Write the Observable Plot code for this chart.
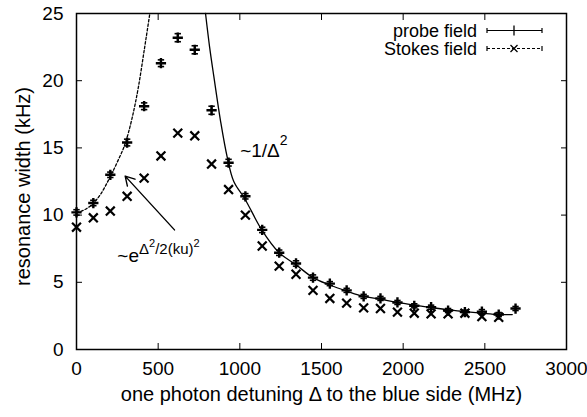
<!DOCTYPE html>
<html><head><meta charset="utf-8">
<script src="https://cdn.jsdelivr.net/npm/d3@7"></script>
<script src="https://cdn.jsdelivr.net/npm/@observablehq/plot@0.6"></script>
<style>html,body{margin:0;padding:0;background:#fff}svg{display:block}</style>
</head><body><div id="chart"></div>
<script>
// ---- data ----
const detuning = [0,103,207,310,414,517,620,724,827,931,1034,1137,1241,1344,1448,1551,1654,1758,1861,1965,2068,2171,2275,2378,2482,2585,2688];
const probeWidth = [10.2,10.9,13.0,15.4,18.1,21.3,23.2,22.3,17.8,13.9,11.4,8.9,7.2,6.4,5.35,4.9,4.4,3.95,3.8,3.5,3.25,3.15,2.9,2.78,2.82,2.6,3.05];
const probeErr = [0.2,0.2,0.2,0.25,0.25,0.25,0.3,0.3,0.3,0.25,0.2,0.2,0.2,0.2,0.2,0.15,0.15,0.15,0.15,0.15,0.15,0.15,0.15,0.15,0.15,0.15,0.15];
const stokesDetuning = [0,103,207,310,414,517,620,724,827,931,1034,1137,1241,1344,1448,1551,1654,1758,1861,1965,2068,2171,2275,2378,2482,2585];
const stokesWidth = [9.1,9.8,10.3,11.4,12.75,14.4,16.1,15.9,13.8,11.9,10.0,7.7,6.2,5.6,4.4,3.8,3.45,3.1,3.05,2.78,2.7,2.65,2.65,2.7,2.45,2.4];
const gaussCurveX = [0,50,100,150,200,250,300,340,380,415,449];
const gaussCurveY = [10.2,10.4,10.85,11.6,12.7,13.95,15.4,17.2,19.6,22.3,25.0];
const invCurveX = [790,815,841,882,923,963,1031,1137,1241,1344,1448,1551,1654,1758,1861,1965,2068,2171,2275,2378,2482,2585,2668];
const invCurveY = [25.0,22.5,20.3,17.0,14.3,12.5,11.2,8.85,7.2,6.3,5.35,4.8,4.35,3.95,3.75,3.5,3.3,3.12,2.95,2.82,2.7,2.6,2.6];
const arrowFrom = [600, 8.9];
const arrowTo = [298, 12.9];
const xTicks = [0,500,1000,1500,2000,2500,3000];
const yTicks = [0,5,10,15,20,25];
const xLabel = "one photon detuning Δ to the blue side (MHz)";
const yLabel = "resonance width (kHz)";
const legendLabels = ["probe field", "Stokes field"];
const invLabelPos = [1005, 14.3];
const gaussLabelPos = [253, 6.5];

// ---- tables ----
const probe = detuning.map((x, i) => ({x, y: probeWidth[i], e: probeErr[i]}));
const stokes = stokesDetuning.map((x, i) => ({x, y: stokesWidth[i]}));
const gauss = gaussCurveX.map((x, i) => ({x, y: gaussCurveY[i]}));
const inv = invCurveX.map((x, i) => ({x, y: invCurveY[i]}));

const font = "'Liberation Sans', Arial, Helvetica, sans-serif";
const hbar = {draw(ctx, size) { const r = Math.sqrt(size / Math.PI); ctx.moveTo(-r, 0); ctx.lineTo(r, 0); }};
const plain = d => String(d);

const plot = Plot.plot({
  width: 587, height: 417,
  marginLeft: 76, marginRight: 21, marginTop: 13, marginBottom: 68,
  style: {fontFamily: font, fontSize: "19px", color: "#000", background: "#fff", overflow: "visible"},
  x: {domain: [0, 3000]},
  y: {domain: [0, 25]},
  marks: [
    Plot.line(gauss, {x: "x", y: "y", stroke: "#000", strokeWidth: 1.3, strokeDasharray: "2.5,2", curve: "monotone-x"}),
    Plot.line(inv, {x: "x", y: "y", stroke: "#000", strokeWidth: 1.3, curve: "catmull-rom"}),
    Plot.ruleX(probe, {x: "x", y1: d => d.y - d.e, y2: d => d.y + d.e, stroke: "#000", strokeWidth: 1.6}),
    Plot.dot(probe, {x: "x", y: d => d.y - d.e, symbol: hbar, r: 3.2, stroke: "#000", strokeWidth: 1.6}),
    Plot.dot(probe, {x: "x", y: d => d.y + d.e, symbol: hbar, r: 3.2, stroke: "#000", strokeWidth: 1.6}),
    Plot.dot(probe, {x: "x", y: "y", symbol: "plus", r: 3.4, stroke: "#000", strokeWidth: 2.4}),
    Plot.dot(stokes, {x: "x", y: "y", symbol: "times", r: 4.1, stroke: "#000", strokeWidth: 2.2}),
    Plot.arrow([{}], {x1: arrowFrom[0], y1: arrowFrom[1], x2: arrowTo[0], y2: arrowTo[1], stroke: "#000", strokeWidth: 1.4, headLength: 11, bend: 0}),
    Plot.axisX(xTicks, {anchor: "bottom", tickSize: -6, tickPadding: 18, tickFormat: plain, label: null, fontSize: 19}),
    Plot.axisX(xTicks, {anchor: "top", tickSize: -6, tickFormat: () => "", label: null}),
    Plot.axisY(yTicks, {anchor: "left", tickSize: -6, tickPadding: 19, tickFormat: plain, label: null, fontSize: 19}),
    Plot.axisY(yTicks, {anchor: "right", tickSize: -6, tickFormat: () => "", label: null}),
    Plot.frame({stroke: "#000", strokeWidth: 1.5}),
    Plot.text([xLabel], {frameAnchor: "bottom", dy: 45, lineAnchor: "middle", textAnchor: "middle", fontSize: 20}),
    Plot.text([yLabel], {frameAnchor: "left", dx: -53, dy: 5, rotate: -90, lineAnchor: "middle", textAnchor: "middle", fontSize: 20})
  ]
});

document.getElementById("chart").appendChild(plot);

// ---- annotations and legend ----
const svg = d3.select(plot);
const sx = plot.scale("x"), sy = plot.scale("y");
const g = svg.append("g").attr("font-family", font).attr("fill", "#000").attr("text-anchor", "start");

const t1 = g.append("text").attr("x", sx.apply(invLabelPos[0])).attr("y", sy.apply(invLabelPos[1])).attr("font-size", 19).attr("text-anchor", "start");
t1.append("tspan").text("~1/Δ");
t1.append("tspan").attr("dy", -12).attr("font-size", 14).text("2");

const t2 = g.append("text").attr("x", sx.apply(gaussLabelPos[0])).attr("y", sy.apply(gaussLabelPos[1])).attr("font-size", 19).attr("text-anchor", "start");
t2.append("tspan").text("~e");
t2.append("tspan").attr("dy", -7.5).attr("font-size", 15).text("Δ");
t2.append("tspan").attr("dy", -7).attr("font-size", 11).text("2");
t2.append("tspan").attr("dy", 7).attr("font-size", 15).text("/2(ku)");
t2.append("tspan").attr("dy", -7).attr("font-size", 11).text("2");

// legend (top right, inside frame)
const lx1 = 487, lx2 = 542, lmid = 514, textRight = 477;
const rows = [{y: 30.5, label: legendLabels[0], dash: null}, {y: 48.5, label: legendLabels[1], dash: "3,2"}];
rows.forEach((r, i) => {
  g.append("text").attr("x", textRight).attr("y", r.y + 6).attr("text-anchor", "end").attr("font-size", 18).text(r.label);
  const lg = g.append("g").attr("stroke", "#000").attr("fill", "none");
  lg.append("line").attr("x1", lx1).attr("x2", lx2).attr("y1", r.y).attr("y2", r.y).attr("stroke-width", 1.2).attr("stroke-dasharray", r.dash);
  lg.append("line").attr("x1", lx1).attr("x2", lx1).attr("y1", r.y - 2.5).attr("y2", r.y + 2.5).attr("stroke-width", 1.2);
  lg.append("line").attr("x1", lx2).attr("x2", lx2).attr("y1", r.y - 2.5).attr("y2", r.y + 2.5).attr("stroke-width", 1.2);
  if (i === 0) {
    lg.append("line").attr("x1", lmid).attr("x2", lmid).attr("y1", r.y - 5).attr("y2", r.y + 5).attr("stroke-width", 1.3);
  } else {
    lg.append("path").attr("d", `M${lmid-3.5},${r.y-3.5}L${lmid+3.5},${r.y+3.5}M${lmid-3.5},${r.y+3.5}L${lmid+3.5},${r.y-3.5}`).attr("stroke-width", 1.3);
  }
});
</script>
</body></html>
